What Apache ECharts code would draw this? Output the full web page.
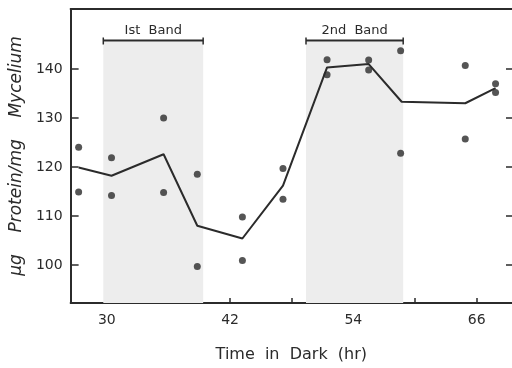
<!DOCTYPE html>
<html>
<head>
<meta charset="utf-8">
<script src="https://cdn.jsdelivr.net/npm/echarts@6/dist/echarts.min.js"></script>
<style>html,body{margin:0;padding:0;background:#fff}#c{width:512px;height:368px}</style>
</head>
<body>
<div id="c"></div>
<script>
// Mean line (hours in dark, µg protein / mg mycelium)
const lineHours = [27.26, 30.46, 35.53, 38.81, 43.2, 47.15, 51.44, 55.49, 58.7, 64.89, 67.84];
const lineValues = [119.9, 118.2, 122.6, 108.0, 105.4, 116.2, 140.3, 141.0, 133.3, 133.0, 136.1];
// Individual replicates
const dotHours = [27.26, 27.26, 30.46, 30.46, 35.53, 35.53, 38.81, 38.81, 43.2, 43.2, 47.15, 47.15,
                  51.44, 51.44, 55.49, 55.49, 58.6, 58.6, 64.89, 64.89, 67.84, 67.84];
const dotValues = [124.0, 114.9, 121.9, 114.2, 130.0, 114.8, 118.5, 99.7, 109.8, 100.9, 119.7, 113.4,
                   141.9, 138.8, 141.8, 139.8, 143.7, 122.8, 140.7, 125.7, 137.0, 135.2];
// Shaded bands
const bandNames = ['Ist  Band', '2nd  Band'];
const bandStart = [29.66, 49.39];
const bandEnd = [39.38, 58.85];
const bandTop = 145.6;
// Axis ticks
const xTicks = [30, 36, 42, 48, 54, 60, 66];
const xLabels = [30, 42, 54, 66];
const yTicks = [100, 110, 120, 130, 140];

const X_MIN = 26.48, X_MAX = 69.44, Y_MIN = 92.24, Y_MAX = 152.23;
const ink = '#2b2b2b';
const font = 'DejaVu Sans';

const chart = echarts.init(document.getElementById('c'), null, {renderer: 'canvas'});
chart.setOption({
  animation: false,
  backgroundColor: '#fff',
  grid: {left: 67, top: 9, width: 446, height: 304},
  xAxis: [{
    type: 'value', min: X_MIN, max: X_MAX, position: 'bottom',
    axisLine: {show: true, lineStyle: {color: ink, width: 2}},
    axisTick: {show: true, inside: true, length: 5, customValues: xTicks, lineStyle: {color: ink, width: 1.5}},
    axisLabel: {customValues: xLabels, color: ink, fontSize: 14, fontFamily: font, margin: 10},
    splitLine: {show: false},
    name: 'Time  in  Dark  (hr)', nameLocation: 'middle', nameGap: 44,
    nameTextStyle: {color: ink, fontSize: 16, fontFamily: font}
  }, {
    type: 'value', min: X_MIN, max: X_MAX, position: 'top',
    axisLine: {show: true, lineStyle: {color: ink, width: 2}},
    axisTick: {show: false}, axisLabel: {show: false}, splitLine: {show: false}
  }],
  yAxis: [{
    type: 'value', min: Y_MIN, max: Y_MAX, position: 'left',
    axisLine: {show: true, lineStyle: {color: ink, width: 2}},
    axisTick: {show: true, inside: true, length: 8, customValues: yTicks, lineStyle: {color: ink, width: 1.5}},
    axisLabel: {customValues: yTicks, color: ink, fontSize: 14, fontFamily: font, margin: 8},
    splitLine: {show: false},
    name: 'µg    Protein/mg    Mycelium', nameLocation: 'middle', nameGap: 45,
    nameTextStyle: {color: ink, fontSize: 17, fontStyle: 'italic', fontFamily: font}
  }, {
    type: 'value', min: Y_MIN, max: Y_MAX, position: 'right',
    axisLine: {show: false},
    axisTick: {show: true, inside: true, length: 6, customValues: yTicks, lineStyle: {color: ink, width: 1.5}},
    axisLabel: {show: false}, splitLine: {show: false}
  }],
  series: [{
    type: 'custom', z: 1, silent: true,
    data: bandNames.map((n, i) => [bandStart[i], bandEnd[i], bandTop, n]),
    renderItem: function (params, api) {
      const s = api.value(0), e = api.value(1), t = api.value(2);
      const p0 = api.coord([s, t]);
      const p1 = api.coord([e, Y_MIN]);
      return {type: 'group', children: [
        {type: 'rect', shape: {x: p0[0], y: p0[1], width: p1[0] - p0[0], height: p1[1] - p0[1]},
         style: {fill: '#ededed'}},
        {type: 'line', shape: {x1: p0[0], y1: p0[1] - 1, x2: p1[0], y2: p0[1] - 1},
         style: {stroke: ink, lineWidth: 1.8}},
        {type: 'line', shape: {x1: p0[0], y1: p0[1] - 4, x2: p0[0], y2: p0[1] + 3},
         style: {stroke: ink, lineWidth: 1.5}},
        {type: 'line', shape: {x1: p1[0], y1: p0[1] - 4, x2: p1[0], y2: p0[1] + 3},
         style: {stroke: ink, lineWidth: 1.5}},
        {type: 'text', x: (p0[0] + p1[0]) / 2, y: p0[1] - 4,
         style: {text: api.value(3), fill: ink, font: '13px "DejaVu Sans"', align: 'center', verticalAlign: 'bottom'}}
      ]};
    },
    encode: {x: [0, 1], y: 2}
  }, {
    type: 'line', z: 3,
    data: lineHours.map((h, i) => [h, lineValues[i]]),
    showSymbol: false, symbol: 'none',
    lineStyle: {color: ink, width: 2}
  }, {
    type: 'scatter', z: 4,
    data: dotHours.map((h, i) => [h, dotValues[i]]),
    symbol: 'circle', symbolSize: 7,
    itemStyle: {color: ink}
  }]
});
</script>
</body>
</html>
